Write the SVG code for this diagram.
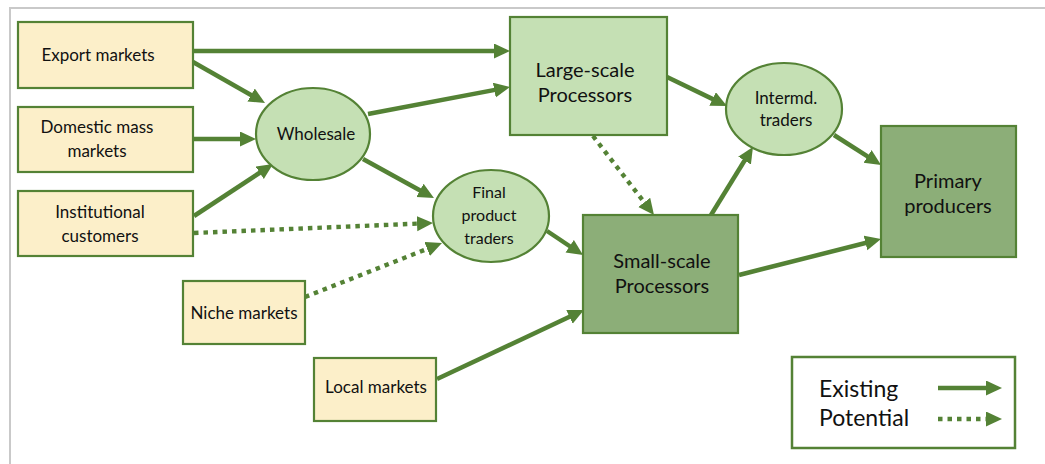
<svg xmlns="http://www.w3.org/2000/svg" width="1045" height="464" viewBox="0 0 1045 464">
<style>
.frame{fill:none;stroke:#c9c9c9;stroke-width:2}
.mkt{fill:#fcefc9;stroke:#548235;stroke-width:2.2}
.lg{fill:#c5e0b4;stroke:#548235;stroke-width:2.2}
.dk{fill:#8cae78;stroke:#548235;stroke-width:2.2}
.leg{fill:#ffffff;stroke:#548235;stroke-width:2.5}
text{font-family:Lato,"Liberation Sans",sans-serif;fill:#111;text-anchor:middle}
.s17{font-size:17px}
.s16{font-size:16px}
.s20{font-size:20px}
.s23{font-size:23px;text-anchor:start}
.ex{fill:none;stroke:#548235;stroke-width:4.5;marker-end:url(#ah)}
.po{fill:none;stroke:#548235;stroke-width:4.4;stroke-dasharray:4.5 5;marker-end:url(#ah)}
</style>
<defs>
<marker id="ah" markerUnits="userSpaceOnUse" markerWidth="18" markerHeight="16" refX="6" refY="7.5" orient="auto">
<path d="M0,0 L16,7.5 L0,15 z" fill="#548235"/>
</marker>
</defs>
<path class="frame" d="M10,464 L10,8 L1045,8"/>
<g id="connectors">
<line class="ex" x1="193" y1="51" x2="500" y2="51"/>
<line class="ex" x1="193" y1="62" x2="256.3" y2="98"/>
<line class="ex" x1="193" y1="139" x2="246" y2="139"/>
<line class="ex" x1="194" y1="216" x2="264.7" y2="169.5"/>
<line class="po" x1="194" y1="233" x2="423" y2="223.4"/>
<line class="po" x1="305" y1="297" x2="432.7" y2="246.7"/>
<line class="ex" x1="368" y1="114" x2="500.2" y2="88.9"/>
<line class="ex" x1="363" y1="159" x2="425.2" y2="193.2"/>
<line class="ex" x1="547" y1="231" x2="574.7" y2="249.5"/>
<line class="po" x1="593" y1="136" x2="647.9" y2="207.1"/>
<line class="ex" x1="667" y1="77" x2="718" y2="101.6"/>
<line class="ex" x1="711" y1="215" x2="747.7" y2="155.5"/>
<line class="ex" x1="834" y1="135" x2="872.6" y2="159.6"/>
<line class="ex" x1="739" y1="275" x2="871.3" y2="241.5"/>
<line class="ex" x1="437" y1="379" x2="574.9" y2="314.3"/>
</g>
<g id="export-markets">
<rect class="mkt" x="18" y="22" width="175" height="66"/>
<text class="s17" x="98" y="61">Export markets</text>
</g>
<g id="domestic-mass-markets">
<rect class="mkt" x="18" y="107" width="175" height="65"/>
<text class="s17" x="97" y="133">Domestic mass</text>
<text class="s17" x="97" y="157">markets</text>
</g>
<g id="institutional-customers">
<rect class="mkt" x="18" y="191" width="175" height="65"/>
<text class="s17" x="100" y="218">Institutional</text>
<text class="s17" x="100" y="242">customers</text>
</g>
<g id="niche-markets">
<rect class="mkt" x="183" y="281" width="122" height="63"/>
<text class="s17" x="244" y="319">Niche markets</text>
</g>
<g id="local-markets">
<rect class="mkt" x="314" y="358" width="122" height="63"/>
<text class="s17" x="376" y="393">Local markets</text>
</g>
<g id="wholesale">
<ellipse class="lg" cx="313" cy="134" rx="57" ry="46"/>
<text class="s17" x="316" y="140">Wholesale</text>
</g>
<g id="final-product-traders">
<ellipse class="lg" cx="491" cy="216" rx="58" ry="46"/>
<text class="s16" x="489" y="198">Final</text>
<text class="s16" x="489" y="221">product</text>
<text class="s16" x="489" y="244">traders</text>
</g>
<g id="large-scale-processors">
<rect class="lg" x="510" y="17" width="157" height="118"/>
<text class="s20" x="585" y="77">Large-scale</text>
<text class="s20" x="585" y="102">Processors</text>
</g>
<g id="intermd-traders">
<ellipse class="lg" cx="784" cy="109" rx="58" ry="46"/>
<text class="s17" x="786" y="104">Intermd.</text>
<text class="s17" x="786" y="126">traders</text>
</g>
<g id="small-scale-processors">
<rect class="dk" x="583" y="215" width="155" height="118"/>
<text class="s20" x="662" y="268">Small-scale</text>
<text class="s20" x="662" y="293">Processors</text>
</g>
<g id="primary-producers">
<rect class="dk" x="881" y="126" width="135" height="131"/>
<text class="s20" x="948" y="188">Primary</text>
<text class="s20" x="948" y="213">producers</text>
</g>
<g id="legend">
<rect class="leg" x="792" y="357" width="223" height="91"/>
<text class="s23" x="819" y="397">Existing</text>
<text class="s23" x="819" y="426">Potential</text>
<line class="ex" x1="938" y1="388" x2="992" y2="388"/>
<line class="po" x1="938" y1="419" x2="992" y2="419"/>
</g>
</svg>
